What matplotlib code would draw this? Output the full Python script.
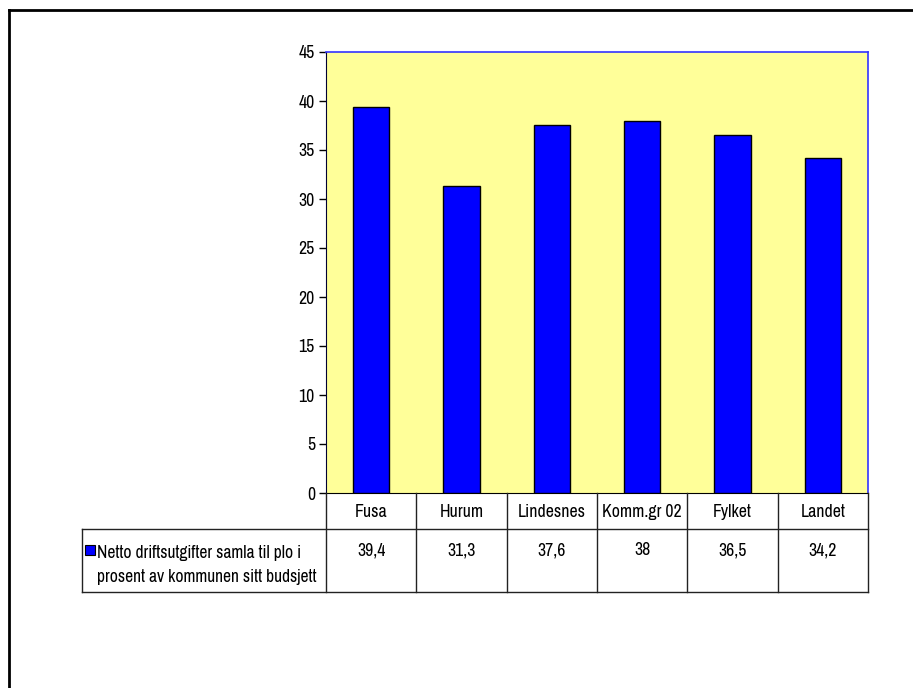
import matplotlib
matplotlib.use("Agg")
import matplotlib.pyplot as plt
from matplotlib.lines import Line2D
from matplotlib.patches import Rectangle
from matplotlib.transforms import blended_transform_factory
from matplotlib import font_manager

categories = ["Fusa", "Hurum", "Lindesnes", "Komm.gr 02", "Fylket", "Landet"]
values = [39.4, 31.3, 37.6, 38, 36.5, 34.2]
value_labels = ["39,4", "31,3", "37,6", "38", "36,5", "34,2"]
series_name = "Netto driftsutgifter samla til plo i\nprosent av kommunen sitt budsjett"
yticks = [0, 5, 10, 15, 20, 25, 30, 35, 40, 45]

# find a narrow font if one is installed
narrow = None
for f in font_manager.fontManager.ttflist:
    if "Narrow" in f.name and f.weight in (400, "normal", "regular") and f.style == "normal":
        narrow = f.fname
        break
if narrow is None:
    for f in font_manager.fontManager.ttflist:
        if ("Condensed" in f.fname or f.stretch in ("condensed", "semi-condensed")) \
                and "Bold" not in f.fname and "Oblique" not in f.fname and "Italic" not in f.fname \
                and f.style == "normal" and f.weight in (400, "normal", "regular"):
            narrow = f.fname
            break

if narrow:
    fp = font_manager.FontProperties(fname=narrow, size=12.8)
    fp_leg = font_manager.FontProperties(fname=narrow, size=12.6)
else:
    fp = font_manager.FontProperties(family="Liberation Sans", size=10)
    fp_leg = fp

W, H = 913, 688
fig = plt.figure(figsize=(W / 100, H / 100), dpi=100)

def fx(x):
    return x / W

def fy(y):
    return 1 - y / H

L, R, T, B = 326, 868, 52, 493
ax = fig.add_axes([fx(L), fy(B), fx(R - L), (B - T) / H])
ax.set_facecolor("#FFFF99")
x = list(range(len(categories)))
ax.bar(x, values, width=0.4, color="#0000FF", edgecolor="black", linewidth=1.0, zorder=3)
ax.set_xlim(-0.5, len(categories) - 0.5)
ax.set_ylim(0, 45)
ax.set_yticks(yticks)
ax.set_yticklabels([str(t) for t in yticks])
for lab in ax.get_yticklabels():
    lab.set_fontproperties(fp)
ax.tick_params(axis="y", direction="out", length=5, width=1, color="black", pad=3)
ax.set_xticks([])
for s in ["top", "right"]:
    ax.spines[s].set_color("#3333FF")
    ax.spines[s].set_linewidth(1.2)
ax.spines["left"].set_color("#000033")
ax.spines["bottom"].set_color("black")

# outer border (top and left)
fig.add_artist(Line2D([fx(9), fx(W)], [fy(9.5), fy(9.5)], transform=fig.transFigure, color="black", lw=2))
fig.add_artist(Line2D([fx(9), fx(9)], [fy(9.5), 0], transform=fig.transFigure, color="black", lw=2))

# data table
row1_bot, row2_bot, tab_left = 529, 592, 82
lc = "#222222"
def hline(x0, x1, y):
    fig.add_artist(Line2D([fx(x0), fx(x1)], [fy(y), fy(y)], transform=fig.transFigure, color=lc, lw=1))
def vline(xp, y0, y1):
    fig.add_artist(Line2D([fx(xp), fx(xp)], [fy(y0), fy(y1)], transform=fig.transFigure, color=lc, lw=1))

hline(tab_left, R, row1_bot)
hline(tab_left, R, row2_bot)
vline(tab_left, row1_bot, row2_bot)
colw = (R - L) / len(categories)
for i in range(len(categories) + 1):
    vline(L + i * colw, B, row2_bot)

tr = blended_transform_factory(ax.transData, fig.transFigure)
for i, (c, v) in enumerate(zip(categories, value_labels)):
    fig.text(i, fy(512), c, transform=tr, ha="center", va="center", fontproperties=fp)
    fig.text(i, fy(550), v, transform=tr, ha="center", va="center", fontproperties=fp)

# legend key and series name
fig.add_artist(Rectangle((fx(85), fy(555)), fx(10), 10 / H, transform=fig.transFigure,
                         facecolor="#0000FF", edgecolor="black", lw=0.8))
fig.text(fx(97), fy(565), series_name, ha="left", va="center", fontproperties=fp_leg, linespacing=1.62)

fig.savefig("out.png", dpi=100)
